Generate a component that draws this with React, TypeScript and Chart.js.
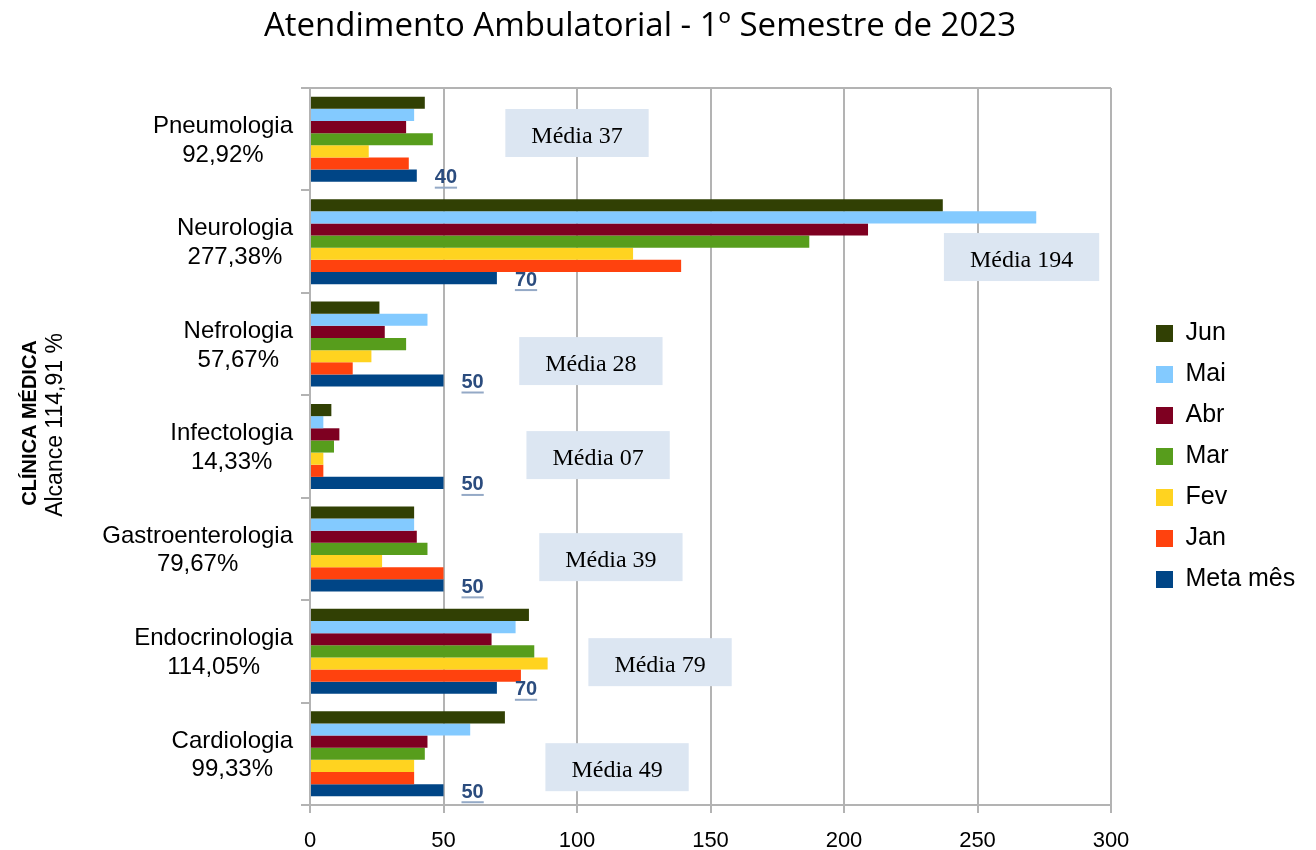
import React, { useEffect, useRef } from 'react';
import { Chart, registerables } from 'chart.js';

Chart.register(...registerables);

const titleText = 'Atendimento Ambulatorial - 1º Semestre de 2023';
const axisTitleBold = 'CLÍNICA MÉDICA';
const axisTitleRegular = 'Alcance 114,91 %';

const clinics = ['Pneumologia', 'Neurologia', 'Nefrologia', 'Infectologia', 'Gastroenterologia', 'Endocrinologia', 'Cardiologia'];
const alcance = ['92,92%', '277,38%', '57,67%', '14,33%', '79,67%', '114,05%', '99,33%'];

const seriesNames = ['Jun', 'Mai', 'Abr', 'Mar', 'Fev', 'Jan', 'Meta mês'];
const jun = [43, 237, 26, 8, 39, 82, 73];
const mai = [39, 272, 44, 5, 39, 77, 60];
const abr = [36, 209, 28, 11, 40, 68, 44];
const mar = [46, 187, 36, 9, 44, 84, 43];
const fev = [22, 121, 23, 5, 27, 89, 39];
const jan = [37, 139, 16, 5, 50, 79, 39];
const metaMes = [40, 70, 50, 50, 50, 70, 50];

const mediaLabels = ['Média 37', 'Média 194', 'Média 28', 'Média 07', 'Média 39', 'Média 79', 'Média 49'];

const xMin = 0;
const xMax = 300;
const xStep = 50;

// placement of the "Média" annotation boxes (value-axis anchor, pixel offset from category centre)
const mediaBoxX = [100, 266.5, 105.2, 107.9, 112.7, 131.1, 115];
const mediaBoxDy = [-6.2, 15.4, 17, 8.6, 8.2, 10.8, 13.4];

const colors = ['#314004', '#83caff', '#7e0021', '#579d1c', '#ffd320', '#ff420e', '#004586'];
const GRID = '#b3b3b3';
const SANS = '"Liberation Sans", Arial, sans-serif';

const overlayPlugin = {
  id: 'overlay',
  beforeLayout(chart: any) {
    const lg = chart.legend;
    if (lg && !lg.__patched) {
      const orig = lg.fit;
      lg.fit = function () {
        orig.call(this);
        this.width = 169;
      };
      lg.__patched = true;
    }
  },
  afterLayout(chart: any) {
    const lg = chart.legend;
    if (!lg) return;
    const dx = chart.chartArea.right + 29 - lg.left;
    lg.left += dx;
    lg.right += dx;
    lg.top += 10;
    lg.bottom += 10;
  },
  beforeDatasetsDraw(chart: any) {
    const { ctx, chartArea } = chart;
    ctx.save();
    ctx.strokeStyle = GRID;
    ctx.lineWidth = 2;
    ctx.beginPath();
    ctx.moveTo(chartArea.left, chartArea.top);
    ctx.lineTo(chartArea.right, chartArea.top);
    ctx.stroke();
    ctx.restore();
  },
  afterDatasetsDraw(chart: any) {
    const { ctx, chartArea } = chart;
    const xs = chart.scales.x;
    const ys = chart.scales.y;
    ctx.save();

    // Média boxes
    ctx.font = '24px "Liberation Serif", "Times New Roman", serif';
    ctx.textAlign = 'center';
    ctx.textBaseline = 'alphabetic';
    mediaLabels.forEach((t, i) => {
      const tw = ctx.measureText(t).width;
      const w = tw + 52;
      const h = 48;
      const cx = xs.getPixelForValue(mediaBoxX[i]);
      const cy = ys.getPixelForValue(i) + mediaBoxDy[i];
      ctx.fillStyle = '#dce6f2';
      ctx.fillRect(cx - w / 2, cy - h / 2, w, h);
      ctx.fillStyle = '#000';
      ctx.fillText(t, cx, cy + 9.5);
    });

    // Meta labels
    const meta = chart.getDatasetMeta(6);
    ctx.font = 'bold 20px ' + SANS;
    ctx.textAlign = 'left';
    metaMes.forEach((v, i) => {
      const bar: any = meta.data[i];
      if (!bar) return;
      const t = String(v);
      const x = bar.x + 18;
      const base = bar.y + 7.5;
      const tw = ctx.measureText(t).width;
      ctx.fillStyle = '#2b4c7e';
      ctx.fillText(t, x, base);
      ctx.fillStyle = '#94a9c6';
      ctx.fillRect(x, base + 3.5, tw, 2);
    });

    // category labels (two lines, centred within a right-aligned block)
    ctx.font = '24px ' + SANS;
    ctx.fillStyle = '#000';
    ctx.textAlign = 'center';
    clinics.forEach((name, i) => {
      const cy = ys.getPixelForValue(i);
      const bw = Math.max(ctx.measureText(name).width, ctx.measureText(alcance[i]).width);
      const cx = chartArea.left - 17 - bw / 2;
      ctx.fillText(name, cx, cy - 6.2);
      ctx.fillText(alcance[i], cx, cy + 22.5);
    });

    // vertical axis title
    ctx.textBaseline = 'middle';
    ctx.save();
    ctx.translate(30, 423);
    ctx.rotate(-Math.PI / 2);
    ctx.font = 'bold 20px ' + SANS;
    ctx.fillText(axisTitleBold, 0, 0);
    ctx.restore();
    ctx.save();
    ctx.translate(56, 425);
    ctx.rotate(-Math.PI / 2);
    ctx.font = '23px ' + SANS;
    ctx.fillText(axisTitleRegular, 0, 0);
    ctx.restore();

    ctx.restore();
  },
};

export default function App() {
  const ref = useRef<HTMLCanvasElement | null>(null);

  useEffect(() => {
    if (!ref.current) return;
    const series = [jun, mai, abr, mar, fev, jan, metaMes];
    const chart = new Chart(ref.current, {
      type: 'bar',
      data: {
        labels: clinics,
        datasets: series.map((d, i) => ({
          label: seriesNames[i],
          data: d,
          backgroundColor: colors[i],
          borderColor: colors[i],
          borderWidth: 0,
          barPercentage: 1,
          categoryPercentage: 0.83,
        })),
      },
      options: {
        indexAxis: 'y',
        animation: false,
        responsive: true,
        maintainAspectRatio: false,
        layout: { padding: { left: 0, top: 0, bottom: 0, right: 36 } },
        plugins: {
          title: {
            display: true,
            text: titleText,
            color: '#000',
            font: { family: '"Open Sans", sans-serif', size: 33, weight: 'normal' },
            padding: { top: 7, bottom: 41.4 },
          },
          legend: {
            display: true,
            position: 'right',
            fullSize: false,
            align: 'center',
            labels: {
              color: '#000',
              font: { family: SANS, size: 25 },
              boxWidth: 17,
              boxHeight: 17,
              padding: 16,
            },
          },
          tooltip: { enabled: false },
        },
        scales: {
          x: {
            type: 'linear',
            min: xMin,
            max: xMax,
            ticks: {
              stepSize: xStep,
              color: '#000',
              font: { family: SANS, size: 22 },
              padding: 15,
            },
            grid: { color: GRID, lineWidth: 2, drawTicks: true, tickLength: 8 },
            border: { display: true, color: GRID, width: 2 },
            afterFit: (s: any) => {
              s.height = 45;
            },
          },
          y: {
            type: 'category',
            ticks: { display: false },
            grid: { drawOnChartArea: false, drawTicks: true, tickLength: 9, offset: true, color: GRID, lineWidth: 2 },
            border: { display: true, color: GRID, width: 2 },
            afterFit: (s: any) => {
              s.width = 310;
            },
          },
        },
      },
      plugins: [overlayPlugin],
    } as any);
    return () => chart.destroy();
  }, []);

  return (
    <div style={{ position: 'fixed', left: 0, top: 0, width: 1316, height: 850, background: '#fff' }}>
      <canvas ref={ref} />
    </div>
  );
}
